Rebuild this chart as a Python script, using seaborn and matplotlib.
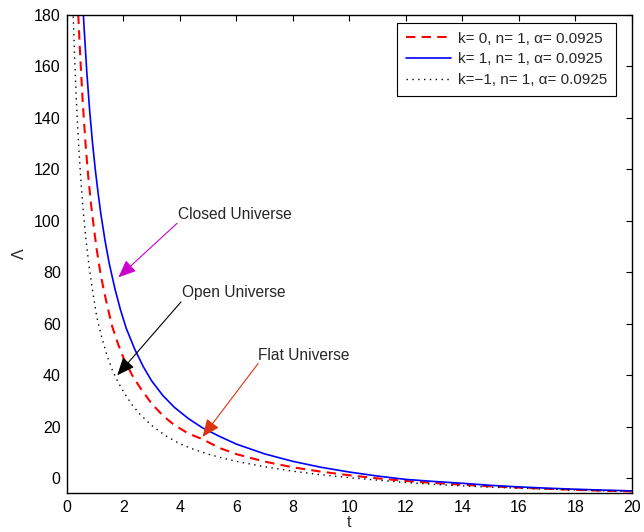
import numpy as np
import pandas as pd
import matplotlib
matplotlib.use("Agg")
import matplotlib.pyplot as plt
import seaborn as sns

# ---- data (estimated) ----
t_flat = [0.36, 0.40, 0.45, 0.50, 0.55, 0.60, 0.67, 0.75, 0.85, 0.95, 1.05, 1.18, 1.30, 1.45,
          1.60, 1.80, 2.00, 2.30, 2.60, 3.00, 3.40, 3.80, 4.30, 4.80, 5.40, 6.00, 7.00, 8.00,
          9.00, 10.0, 11.0, 12.0, 13.0, 14.0, 15.0, 16.0, 17.0, 18.0, 19.0, 20.0]
L_flat = [191.3, 180.0, 168.0, 157.5, 147.5, 139.0, 128.0, 117.5, 106.5, 97.5, 89.0, 80.0, 73.2, 65.9,
          59.0, 52.4, 46.8, 40.2, 35.0, 29.0, 24.3, 20.7, 17.4, 15.2, 11.8, 9.4, 6.5, 4.3,
          2.6, 1.2, 0.0, -1.0, -1.8, -2.45, -3.1, -3.6, -4.05, -4.45, -4.8, -5.05]

t_closed = [0.55, 0.60, 0.70, 0.80, 0.90, 1.00, 1.10, 1.20, 1.35, 1.50, 1.70, 1.90, 2.10, 2.40,
            2.70, 3.00, 3.40, 3.80, 4.30, 4.80, 5.40, 6.00, 7.00, 8.00, 9.00, 10.0, 11.0, 12.0,
            13.0, 14.0, 15.0, 16.0, 17.0, 18.0, 19.0, 20.0]
L_closed = [186.4, 176.0, 158.0, 143.2, 130.7, 120.1, 110.9, 102.6, 92.1, 83.2, 73.5, 65.2, 58.2, 50.1,
            43.4, 37.8, 32.1, 27.6, 23.2, 19.6, 16.3, 13.3, 9.5, 6.6, 4.3, 2.45, 0.9, -0.4,
            -1.2, -1.9, -2.7, -3.3, -3.8, -4.2, -4.55, -4.85]

t_open = [0.19, 0.22, 0.25, 0.28, 0.32, 0.37, 0.43, 0.50, 0.58, 0.67, 0.78, 0.90, 1.05, 1.20,
          1.40, 1.60, 1.80, 2.00, 2.30, 2.60, 3.00, 3.50, 4.00, 4.50, 5.00, 5.50, 6.00, 7.00,
          8.00, 9.00, 10.0, 11.0, 12.0, 13.0, 14.0, 15.0, 16.0, 17.0, 18.0, 19.0, 20.0]
L_open = [191.4, 180.0, 169.9, 160.7, 149.9, 138.2, 126.2, 114.4, 103.2, 92.9, 82.5, 73.3, 63.0, 56.0,
          48.3, 42.2, 37.5, 33.7, 28.6, 24.7, 20.5, 16.5, 13.4, 11.2, 9.4, 7.9, 6.6, 4.5,
          2.8, 1.4, 0.3, -0.7, -1.6, -2.3, -2.9, -3.4, -3.8, -4.2, -4.5, -4.8, -5.05]

labels = ["k= 0, n= 1, \u03b1= 0.0925", "k= 1, n= 1, \u03b1= 0.0925", "k=\u22121, n= 1, \u03b1= 0.0925"]
xticks = list(range(0, 21, 2))
yticks = list(range(0, 181, 20))

sns.set_theme(style="white")
plt.rcParams['font.family'] = ['Liberation Sans', 'DejaVu Sans']

fig = plt.figure(figsize=(6.44, 5.32), dpi=100)
ax = fig.add_axes([0.104, 0.0727, 0.877, 0.900])

df_flat = pd.DataFrame({"t": t_flat, "L": L_flat})
df_closed = pd.DataFrame({"t": t_closed, "L": L_closed})
df_open = pd.DataFrame({"t": t_open, "L": L_open})

sns.lineplot(data=df_flat, x="t", y="L", ax=ax, color="#ff0000", lw=1.5,
             linestyle=(0, (4.5, 3)), sort=False, estimator=None, label=labels[0])
sns.lineplot(data=df_closed, x="t", y="L", ax=ax, color="#0000ff", lw=1.2,
             linestyle="-", sort=False, estimator=None, label=labels[1])
sns.lineplot(data=df_open, x="t", y="L", ax=ax, color="#000000", lw=1.0,
             linestyle=(0, (1, 3.2)), sort=False, estimator=None, label=labels[2])

ax.set_xlim(0, 20)
ax.set_ylim(-5.8, 180)
ax.set_xticks(xticks)
ax.set_yticks(yticks)
ax.tick_params(direction="in", length=4.5, width=0.8, top=True, right=True,
               labelsize=11.5, colors="black", pad=4.5)
for s in ax.spines.values():
    s.set_color("black")
    s.set_linewidth(1.0)
ax.set_xlabel("t", fontsize=11.5, labelpad=0)
ax.set_ylabel("\u039b", fontsize=11.5, labelpad=5)

leg = ax.legend(loc="upper right", bbox_to_anchor=(0.972, 0.982), borderaxespad=0,
                fancybox=False, framealpha=1, edgecolor="black", fontsize=11,
                handlelength=3.0, borderpad=0.55, labelspacing=0.45, handletextpad=0.45)
leg.get_frame().set_linewidth(0.8)

ap = dict(arrowstyle="-|>,head_length=0.9,head_width=0.38", lw=0.8, shrinkA=0, shrinkB=0)
ax.annotate("", xy=(1.82, 78), xytext=(3.9, 99), arrowprops=dict(ap, color="#cc00cc"))
ax.text(3.93, 102.5, "Closed Universe", fontsize=11.2, va="center", ha="left")
ax.annotate("", xy=(1.78, 40), xytext=(4.04, 68.5), arrowprops=dict(ap, color="black"))
ax.text(4.07, 72.3, "Open Universe", fontsize=11.2, va="center", ha="left")
ax.annotate("", xy=(4.8, 16.1), xytext=(6.77, 44.6), arrowprops=dict(ap, color="#dd3311"))
ax.text(6.76, 47.8, "Flat Universe", fontsize=11.2, va="center", ha="left")

fig.savefig("out.png", dpi=100, facecolor="white")
